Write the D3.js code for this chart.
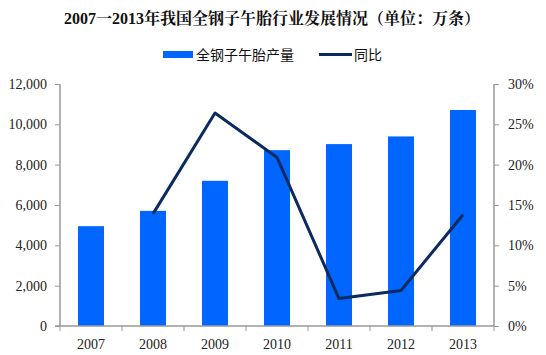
<!DOCTYPE html>
<html><head><meta charset="utf-8">
<script src="https://cdn.jsdelivr.net/npm/d3@7"></script>
<style>body{margin:0;background:#fff}svg{display:block}</style>
</head><body>
<script>
const years = ["2007","2008","2009","2010","2011","2012","2013"];
const output = [4950, 5710, 7200, 8720, 9020, 9400, 10710];
const yoy = [null, 13.9, 26.4, 20.9, 3.4, 4.4, 13.8];
const leftTicks = [0,2000,4000,6000,8000,10000,12000];
const rightTicks = [0,5,10,15,20,25,30];

const W=546,H=355;
const svg=d3.select("body").append("svg").attr("width",W).attr("height",H);
const L=60,R=494,T=84,B=326;
const xb=d3.scaleBand().domain(years).range([L,R]);
const yL=d3.scaleLinear().domain([0,12000]).range([B,T]);
const yR=d3.scaleLinear().domain([0,30]).range([B,T]);
const serif="'Liberation Serif','Times New Roman',serif";
const cjk="'Noto Sans CJK SC',sans-serif";

svg.append("text").attr("x",272).attr("y",24).attr("text-anchor","middle")
 .attr("font-family",serif+",'Noto Serif CJK SC','Noto Sans CJK SC'").attr("font-weight","bold").attr("font-size",16).attr("fill","#111")
 .text("2007一2013年我国全钢子午胎行业发展情况（单位：万条）");

// legend
const lg=svg.append("g");
lg.append("rect").attr("x",163).attr("y",51).attr("width",30).attr("height",7).attr("fill","#0066FF");
lg.append("text").attr("x",196).attr("y",59.5).attr("font-family",cjk).attr("font-size",14).attr("fill","#111").text("全钢子午胎产量");
lg.append("line").attr("x1",319).attr("x2",352).attr("y1",54.5).attr("y2",54.5).attr("stroke","#0B2A5E").attr("stroke-width",3);
lg.append("text").attr("x",354).attr("y",59.5).attr("font-family",cjk).attr("font-size",14).attr("fill","#111").text("同比");

// bars
svg.append("g").selectAll("rect").data(years).join("rect")
 .attr("x",d=>xb(d)+xb.bandwidth()/2-13).attr("width",26)
 .attr("y",(d,i)=>yL(output[i])).attr("height",(d,i)=>B-yL(output[i]))
 .attr("fill","#0066FF");

// axes
const axCol="#999";
const gl=svg.append("g").attr("transform",`translate(${L},0)`)
 .call(d3.axisLeft(yL).tickValues(leftTicks).tickFormat(d3.format(",")).tickSize(5).tickPadding(8));
const gr=svg.append("g").attr("transform",`translate(${R},0)`)
 .call(d3.axisRight(yR).tickValues(rightTicks).tickFormat(d=>d+"%").tickSize(5).tickPadding(9));
const gx=svg.append("g").attr("transform",`translate(0,${B})`)
 .call(d3.axisBottom(xb).tickSize(0).tickPadding(13));
svg.append("g").selectAll("line").data(d3.range(8)).join("line")
 .attr("x1",i=>L+i*xb.step()).attr("x2",i=>L+i*xb.step()).attr("y1",B).attr("y2",B+5)
 .attr("stroke",axCol);
[gl,gr,gx].forEach(g=>{
 g.select(".domain").attr("stroke",axCol).attr("stroke-width",1.5);
 g.selectAll(".tick line").attr("stroke",axCol);
 g.selectAll("text").attr("font-family",serif).attr("font-size",14).attr("fill","#222");
});
gl.select(".domain").attr("d",`M0,${T}V${B}`);
gr.select(".domain").attr("d",`M0,${T}V${B}`);
gx.select(".domain").attr("d",`M${L-5},0H${R}`);

// line
const pts=years.map((d,i)=>[xb(d)+xb.bandwidth()/2,yoy[i]]).filter(p=>p[1]!=null);
svg.append("path").attr("d",d3.line().x(p=>p[0]).y(p=>yR(p[1]))(pts))
 .attr("fill","none").attr("stroke","#0B2A5E").attr("stroke-width",3).attr("stroke-linejoin","round");
</script>
</body></html>
